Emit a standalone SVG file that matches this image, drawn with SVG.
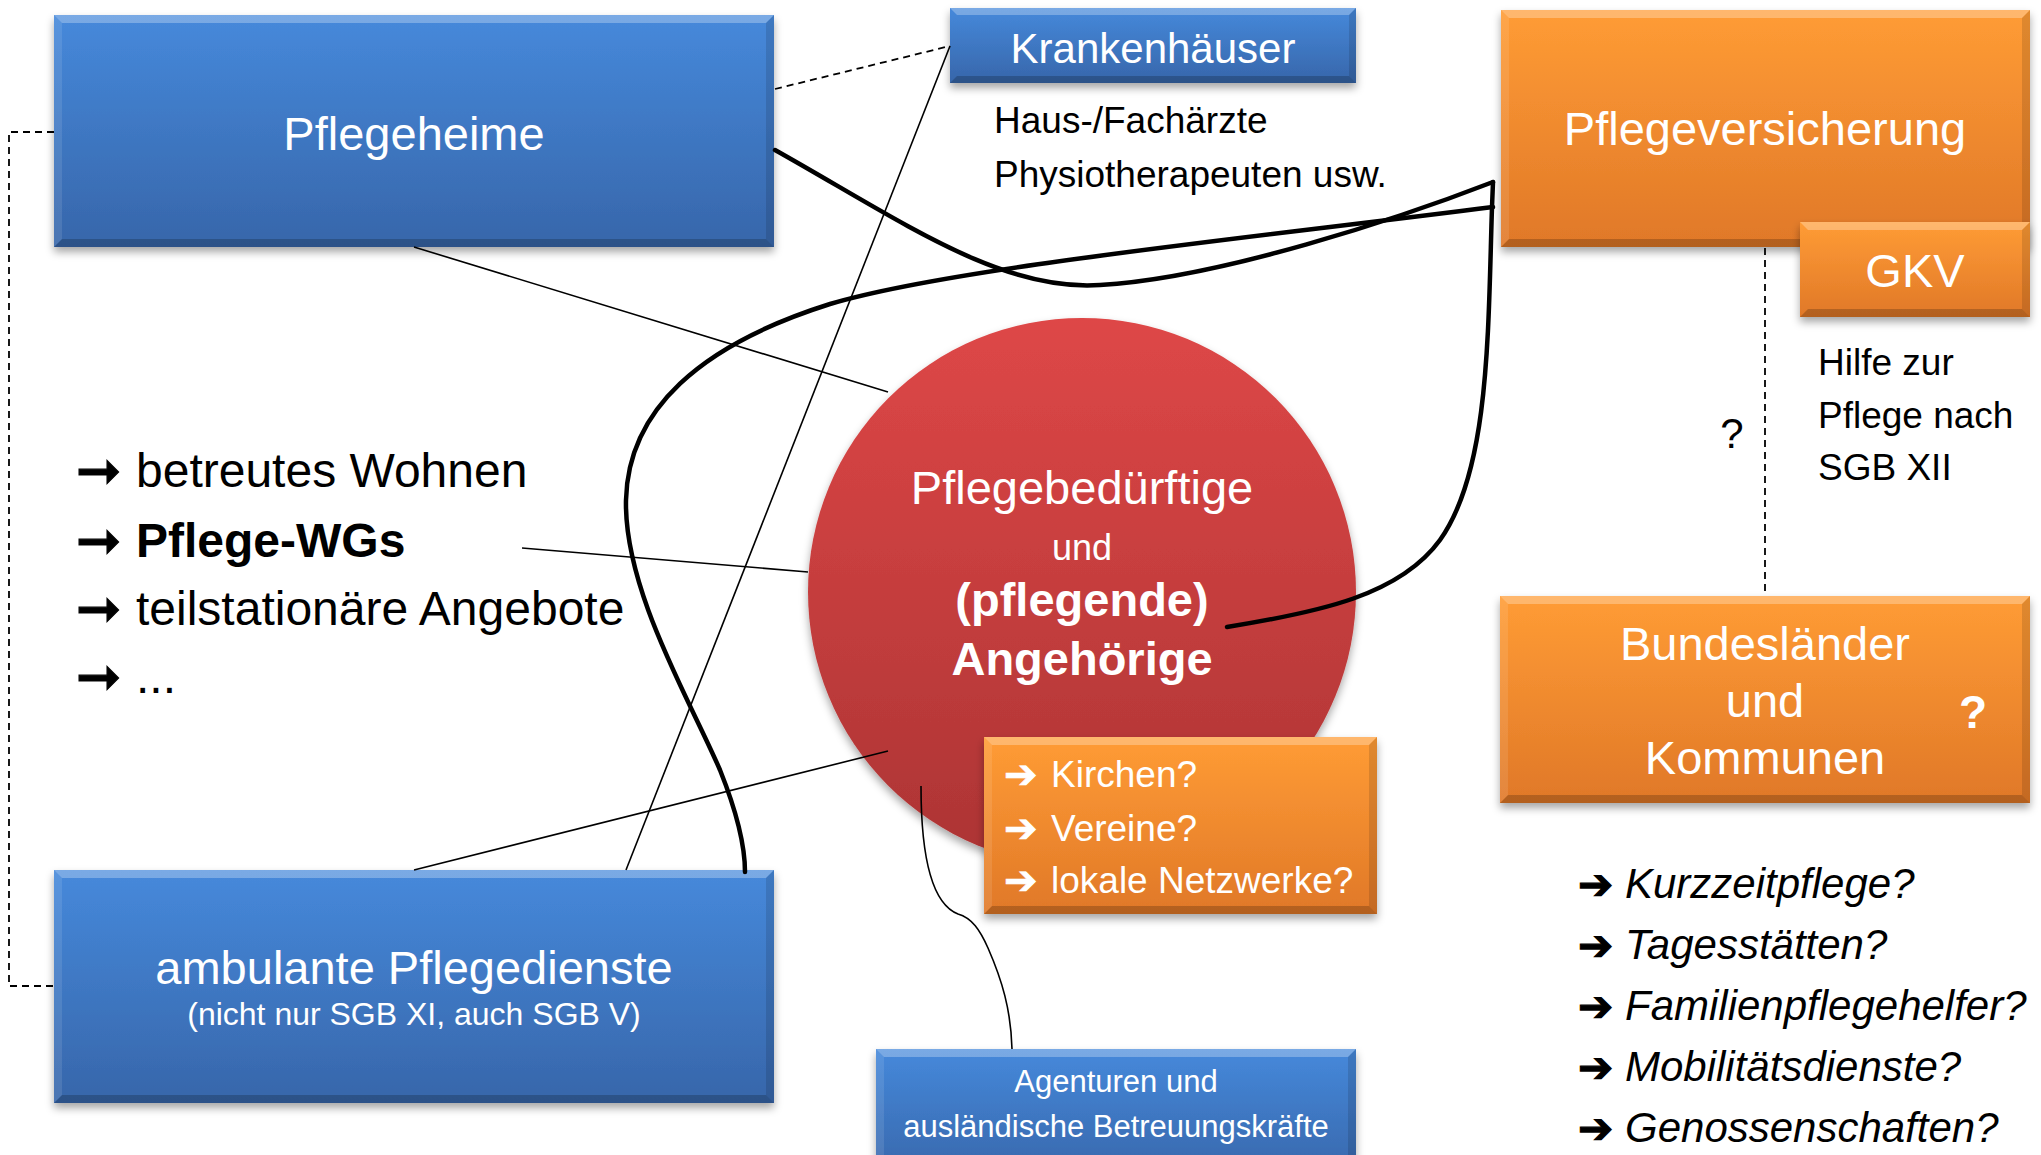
<svg xmlns="http://www.w3.org/2000/svg" width="2041" height="1155" viewBox="0 0 2041 1155">
<defs>
<linearGradient id="gBlue" x1="0" y1="0" x2="0" y2="1">
<stop offset="0" stop-color="#4689DB"/><stop offset="1" stop-color="#3766AA"/>
</linearGradient>
<linearGradient id="gOrange" x1="0" y1="0" x2="0" y2="1">
<stop offset="0" stop-color="#FF9C35"/><stop offset="1" stop-color="#E07828"/>
</linearGradient>
<linearGradient id="gRed" x1="0" y1="0" x2="0" y2="1">
<stop offset="0" stop-color="#DE4747"/><stop offset="1" stop-color="#AC3434"/>
</linearGradient>
<filter id="shadow" x="-10%" y="-10%" width="120%" height="130%">
<feDropShadow dx="0" dy="5" stdDeviation="4" flood-color="#000" flood-opacity="0.35"/>
</filter>
</defs>
<style>
.blue{fill:url(#gBlue);filter:url(#shadow)}
.orange{fill:url(#gOrange);filter:url(#shadow)}
.red{fill:url(#gRed);filter:url(#shadow)}
.bt{fill:#fff;opacity:0.28}
.bb{fill:#000;opacity:0.2}
.bl{fill:#fff;opacity:0.1}
.br{fill:#000;opacity:0.12}
text{font-family:"Liberation Sans",Arial,"DejaVu Sans",sans-serif}
.w{fill:#fff}
.k{fill:#000}
.c{text-anchor:middle}
.arr{font-family:"DejaVu Sans",sans-serif;font-style:normal}
.arrk{stroke:#000;stroke-width:1.2}
.arrw{stroke:#fff;stroke-width:0.8}
.thin{fill:none;stroke:#000;stroke-width:1.6}
.thick{fill:none;stroke:#000;stroke-width:4.5;stroke-linecap:round}
.dash{fill:none;stroke:#000;stroke-width:1.8;stroke-dasharray:7 5}
</style>
<rect width="2041" height="1155" fill="#fff"/>

<g id="pflegeheime">
<rect class="blue" x="54" y="15" width="720" height="232"/>
<polygon class="bt" points="54,15 774,15 766,23 62,23"/>
<polygon class="bb" points="54,247 774,247 766,239 62,239"/>
<polygon class="bl" points="54,15 62,23 62,239 54,247"/>
<polygon class="br" points="774,15 766,23 766,239 774,247"/>
<text class="w c" x="414" y="150" font-size="47">Pflegeheime</text>
</g>

<g id="krankenhaeuser">
<rect class="blue" x="950" y="8" width="406" height="75"/>
<polygon class="bt" points="950,8 1356,8 1349,15 957,15"/>
<polygon class="bb" points="950,83 1356,83 1349,76 957,76"/>
<polygon class="br" points="1356,8 1349,15 1349,76 1356,83"/>
<text class="w c" x="1153" y="63" font-size="42">Krankenhäuser</text>
</g>

<g id="aerzte">
<text class="k" x="994" y="133" font-size="37">Haus-/Fachärzte</text>
<text class="k" x="994" y="187" font-size="37">Physiotherapeuten usw.</text>
</g>

<g id="pflegeversicherung">
<rect class="orange" x="1501" y="10" width="529" height="237"/>
<polygon class="bt" points="1501,10 2030,10 2022,18 1509,18"/>
<polygon class="bb" points="1501,247 2030,247 2022,239 1509,239"/>
<polygon class="bl" points="1501,10 1509,18 1509,239 1501,247"/>
<polygon class="br" points="2030,10 2022,18 2022,239 2030,247"/>
<text class="w c" x="1765" y="145" font-size="47">Pflegeversicherung</text>
</g>

<g id="gkv">
<rect class="orange" x="1800" y="222" width="230" height="95"/>
<polygon class="bt" points="1800,222 2030,222 2022,230 1808,230"/>
<polygon class="bb" points="1800,317 2030,317 2022,309 1808,309"/>
<polygon class="br" points="2030,222 2022,230 2022,309 2030,317"/>
<text class="w c" x="1915" y="287" font-size="47">GKV</text>
</g>

<g id="hilfe">
<text class="k" x="1818" y="375" font-size="37">Hilfe zur</text>
<text class="k" x="1818" y="428" font-size="37">Pflege nach</text>
<text class="k" x="1818" y="480" font-size="37">SGB XII</text>
<text class="k c" x="1732" y="448" font-size="42">?</text>
</g>

<g id="bundeslaender">
<rect class="orange" x="1500" y="596" width="530" height="207"/>
<polygon class="bt" points="1500,596 2030,596 2022,604 1508,604"/>
<polygon class="bb" points="1500,803 2030,803 2022,795 1508,795"/>
<polygon class="bl" points="1500,596 1508,604 1508,795 1500,803"/>
<polygon class="br" points="2030,596 2022,604 2022,795 2030,803"/>
<text class="w c" x="1765" y="660" font-size="47">Bundesländer</text>
<text class="w c" x="1765" y="717" font-size="47">und</text>
<text class="w c" x="1765" y="774" font-size="47">Kommunen</text>
<text class="w c" x="1973" y="728" font-size="46" font-weight="bold">?</text>
</g>

<g id="pflegebeduerftige">
<circle class="red" cx="1082" cy="592" r="274"/>
<text class="w c" x="1082" y="504" font-size="47">Pflegebedürftige</text>
<text class="w c" x="1082" y="560" font-size="36">und</text>
<text class="w c" x="1082" y="616" font-size="47" font-weight="bold">(pflegende)</text>
<text class="w c" x="1082" y="675" font-size="47" font-weight="bold">Angehörige</text>
</g>

<g id="kirchen">
<rect class="orange" x="984" y="737" width="393" height="177"/>
<polygon class="bt" points="984,737 1377,737 1369,745 992,745"/>
<polygon class="bb" points="984,914 1377,914 1369,906 992,906"/>
<polygon class="bl" points="984,737 992,745 992,906 984,914"/>
<polygon class="br" points="1377,737 1369,745 1369,906 1377,914"/>
<text class="w arr arrw" x="1004" y="788" font-size="40">➔</text>
<text class="w" x="1051" y="787" font-size="37">Kirchen?</text>
<text class="w arr arrw" x="1004" y="842" font-size="40">➔</text>
<text class="w" x="1051" y="841" font-size="37">Vereine?</text>
<text class="w arr arrw" x="1004" y="894" font-size="40">➔</text>
<text class="w" x="1051" y="893" font-size="37">lokale Netzwerke?</text>
</g>

<g id="agenturen">
<rect class="blue" x="876" y="1049" width="480" height="130"/>
<polygon class="bt" points="876,1049 1356,1049 1348,1057 884,1057"/>
<polygon class="bl" points="876,1049 884,1057 884,1179 876,1179"/>
<polygon class="br" points="1356,1049 1348,1057 1348,1179 1356,1179"/>
<text class="w c" x="1116" y="1092" font-size="31">Agenturen und</text>
<text class="w c" x="1116" y="1137" font-size="31">ausländische Betreuungskräfte</text>
</g>

<g id="ambulante">
<rect class="blue" x="54" y="870" width="720" height="233"/>
<polygon class="bt" points="54,870 774,870 766,878 62,878"/>
<polygon class="bb" points="54,1103 774,1103 766,1095 62,1095"/>
<polygon class="bl" points="54,870 62,878 62,1095 54,1103"/>
<polygon class="br" points="774,870 766,878 766,1095 774,1103"/>
<text class="w c" x="414" y="984" font-size="47">ambulante Pflegedienste</text>
<text class="w c" x="414" y="1025" font-size="32">(nicht nur SGB XI, auch SGB V)</text>
</g>

<g id="wohnformen">
<text class="k arr arrk" x="76" y="489" font-size="54">➞</text>
<text class="k" x="136" y="487" font-size="48">betreutes Wohnen</text>
<text class="k arr arrk" x="76" y="559" font-size="54">➞</text>
<text class="k" x="136" y="557" font-size="48" font-weight="bold">Pflege-WGs</text>
<text class="k arr arrk" x="76" y="627" font-size="54">➞</text>
<text class="k" x="136" y="625" font-size="48">teilstationäre Angebote</text>
<text class="k arr arrk" x="76" y="695" font-size="54">➞</text>
<text class="k" x="136" y="693" font-size="48">...</text>
</g>

<g id="angebote" font-style="italic">
<text class="k arr arrk" x="1578" y="899" font-size="42">➔</text>
<text class="k" x="1625" y="898" font-size="42">Kurzzeitpflege?</text>
<text class="k arr arrk" x="1578" y="960" font-size="42">➔</text>
<text class="k" x="1625" y="959" font-size="42">Tagesstätten?</text>
<text class="k arr arrk" x="1578" y="1021" font-size="42">➔</text>
<text class="k" x="1625" y="1020" font-size="42">Familienpflegehelfer?</text>
<text class="k arr arrk" x="1578" y="1082" font-size="42">➔</text>
<text class="k" x="1625" y="1081" font-size="42">Mobilitätsdienste?</text>
<text class="k arr arrk" x="1578" y="1143" font-size="42">➔</text>
<text class="k" x="1625" y="1142" font-size="42">Genossenschaften?</text>
</g>

<g id="connectors">
<path class="dash" d="M54,132 H9 V986 H54"/>
<path class="dash" d="M775,89 L950,46"/>
<path class="dash" d="M1765,248 V595"/>
<path class="thin" d="M950,46 L626,870"/>
<path class="thin" d="M414,247 L888,392"/>
<path class="thin" d="M522,548 L808,572"/>
<path class="thin" d="M414,870 L888,751"/>
<path class="thin" d="M921,786 C921,865 935,905 958,914 C972,918 980,930 988,948 C1002,980 1011,1010 1012,1049"/>
<path class="thick" d="M775,150 C900,220 1000,292 1100,285 C1220,278 1400,218 1493,182"/>
<path class="thick" d="M1493,207 C1250,238 950,268 830,304 C700,345 628,410 626,500 C624,590 690,700 720,770 C738,815 745,850 745,872"/>
<path class="thick" d="M1493,182 L1492,207 C1488,330 1490,470 1440,540 C1400,595 1320,612 1227,627"/>
</g>
</svg>
